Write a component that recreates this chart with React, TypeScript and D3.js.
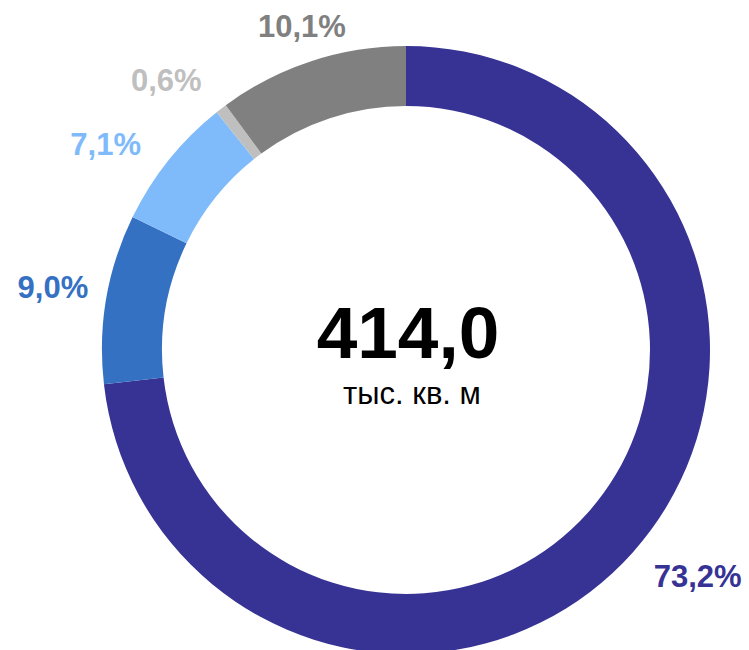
import React from 'react';
import * as d3 from 'd3';

const categories = ['a', 'b', 'c', 'd', 'e'];
const shares = [73.2, 9.0, 7.1, 0.6, 10.1];
const labels = ['73,2%', '9,0%', '7,1%', '0,6%', '10,1%'];
const colors = ['#363394', '#3571C3', '#7FBBFA', '#BFBFBF', '#808080'];
// label nudges from the mid-angle anchor (layout only)
const nudges: [number, number][] = [[38, 0], [-18, -6], [-35, 7], [-33, 0], [2, -1]];

const W = 749;
const H = 650;
const cx = 406;
const cy = 350;
const outerR = 304;
const innerR = 244;
const labelR = 340;
const FONT = '"Liberation Sans", Arial, sans-serif';

export default function App() {
  const pie = d3.pie<number>().sort(null).value(d => d)(shares);
  const arc = d3.arc<d3.PieArcDatum<number>>().innerRadius(innerR).outerRadius(outerR);
  const labelArc = d3.arc<d3.PieArcDatum<number>>().innerRadius(labelR).outerRadius(labelR);

  return (
    <svg width={W} height={H} style={{ position: 'absolute', left: 0, top: 0, background: '#fff' }}>
      <g transform={`translate(${cx},${cy})`}>
        {pie.map((p, i) => (
          <path key={categories[i]} d={arc(p) || ''} fill={colors[i]} />
        ))}
        {pie.map((p, i) => {
          const [x, y] = labelArc.centroid(p);
          return (
            <text
              key={'l' + categories[i]}
              x={x + nudges[i][0]}
              y={y + nudges[i][1] + 11}
              textAnchor="middle"
              fontFamily={FONT}
              fontWeight="bold"
              fontSize={31}
              fill={colors[i]}
            >
              {labels[i]}
            </text>
          );
        })}
        <text x={2} y={8} textAnchor="middle" fontFamily={FONT} fontWeight="bold" fontSize={73} fill="#000">
          414,0
        </text>
        <text x={6} y={54} textAnchor="middle" fontFamily={FONT} fontSize={31} fill="#000">
          тыс. кв. м
        </text>
      </g>
    </svg>
  );
}
